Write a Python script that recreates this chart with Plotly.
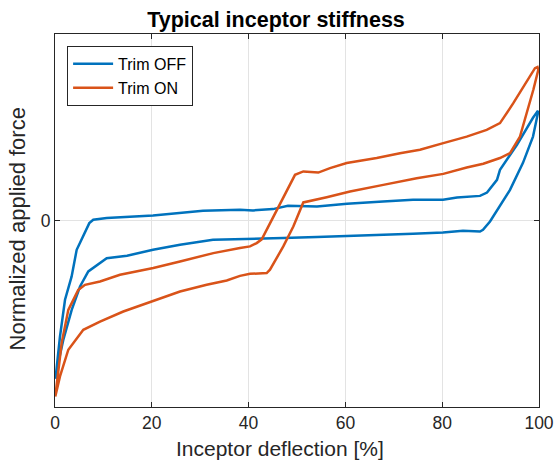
import plotly.graph_objects as go

# Trim OFF loop: loading branch (0 -> 100 %), then unloading branch (100 -> 0 %)
off_load_x = [0.1, 1.03, 2.07, 3.44, 4.48, 5.85, 7.09, 7.91, 10.68, 20.25, 24.38, 30.58,
              38.22, 40.91, 45.04, 48.14, 54.13, 60.33, 67.77, 73.97, 80.17, 83.06, 87.81,
              89.26, 91.32, 91.94, 95.45, 98.76, 99.79]
off_load_y = [-0.849, -0.622, -0.425, -0.300, -0.157, -0.077, -0.014, 0.004, 0.013, 0.027,
              0.036, 0.052, 0.057, 0.054, 0.061, 0.079, 0.075, 0.090, 0.102, 0.111, 0.111,
              0.123, 0.132, 0.150, 0.218, 0.272, 0.406, 0.551, 0.588]
off_unload_x = [99.79, 98.76, 96.69, 94.01, 90.50, 89.88, 88.43, 87.81, 84.30, 80.17, 73.97,
                67.77, 60.33, 54.13, 47.11, 42.36, 36.78, 32.64, 25.83, 20.25, 14.88, 10.68,
                6.88, 5.17, 3.45, 1.71, 0.68, 0.2]
off_unload_y = [0.577, 0.450, 0.309, 0.164, 0.021, -0.005, -0.050, -0.059, -0.055, -0.064,
                -0.071, -0.077, -0.086, -0.089, -0.094, -0.098, -0.100, -0.103, -0.130,
                -0.157, -0.189, -0.202, -0.273, -0.354, -0.479, -0.640, -0.763, -0.849]

# Trim ON loop
on_load_x = [0.06, 1.38, 2.75, 4.81, 6.20, 9.30, 13.43, 20.31, 25.83, 32.71, 38.22, 40.29,
             41.67, 42.71, 49.59, 51.30, 54.40, 56.82, 60.27, 66.47, 71.28, 75.41, 80.23,
             85.06, 89.19, 91.94, 94.69, 96.69, 98.14, 99.17, 99.69]
on_load_y = [-0.944, -0.656, -0.479, -0.372, -0.345, -0.327, -0.291, -0.255, -0.220, -0.175,
             -0.148, -0.139, -0.121, -0.101, 0.245, 0.263, 0.257, 0.281, 0.308, 0.335, 0.361,
             0.379, 0.415, 0.450, 0.486, 0.522, 0.629, 0.710, 0.772, 0.817, 0.823]
on_unload_x = [99.86, 98.83, 97.46, 96.07, 94.01, 91.94, 88.49, 85.06, 80.23, 74.73, 67.83,
               60.95, 56.14, 52.00, 51.30, 49.24, 47.17, 44.42, 43.74, 40.29, 38.22, 35.48,
               31.34, 25.83, 21.01, 14.11, 9.30, 5.85, 2.75, 1.03, 0.06]
on_unload_y = [0.808, 0.701, 0.576, 0.450, 0.361, 0.335, 0.304, 0.284, 0.250, 0.227, 0.191,
               0.155, 0.125, 0.102, 0.097, -0.032, -0.139, -0.264, -0.282, -0.286, -0.297,
               -0.322, -0.345, -0.381, -0.425, -0.488, -0.542, -0.586, -0.693, -0.836, -0.944]

x_ticks = [0, 20, 40, 60, 80, 100]
y_ticks = [0]

BLUE = "#0072BD"
ORANGE = "#D95319"
AXIS = "#262626"
FONT = "Liberation Sans, Arial, Helvetica, sans-serif"

fig = go.Figure()
fig.add_trace(go.Scatter(x=off_load_x + off_unload_x, y=off_load_y + off_unload_y,
                         mode="lines", name="Trim OFF",
                         line=dict(color=BLUE, width=2.5)))
fig.add_trace(go.Scatter(x=on_load_x + on_unload_x, y=on_load_y + on_unload_y,
                         mode="lines", name="Trim ON",
                         line=dict(color=ORANGE, width=2.5)))

axis_common = dict(
    showline=True, linecolor=AXIS, linewidth=1, mirror="ticks",
    ticks="inside", ticklen=5, tickcolor=AXIS, tickwidth=1,
    showgrid=True, gridcolor="#e3e3e3", gridwidth=1,
    zeroline=False, automargin=False,
    tickfont=dict(family=FONT, size=17.5, color=AXIS),
)

fig.update_layout(
    width=554, height=469,
    margin=dict(l=55, r=15, t=34, b=62),
    paper_bgcolor="white", plot_bgcolor="white",
    title=dict(text="<b>Typical inceptor stiffness</b>", x=276 / 554,
               xanchor="center", y=1 - 19 / 469, yanchor="middle",
               font=dict(family=FONT, size=21.5, color="black")),
    xaxis=dict(range=[0, 100], tickvals=x_ticks, **axis_common),
    yaxis=dict(range=[-1, 1], tickvals=y_ticks, **axis_common),
    legend=dict(x=0.025, y=0.968, xanchor="left", yanchor="top",
                bgcolor="white", bordercolor=AXIS, borderwidth=1,
                font=dict(family=FONT, size=16, color="black"),
                tracegroupgap=0, itemwidth=40),
    showlegend=True,
)

# axis labels
fig.add_annotation(text="Inceptor deflection [%]", xref="paper", yref="paper",
                   x=0.465, y=-0.11, xanchor="center", yanchor="middle",
                   showarrow=False, font=dict(family=FONT, size=21, color=AXIS))
fig.add_annotation(text="Normalized applied force", xref="paper", yref="paper",
                   x=-0.077, y=0.478, xanchor="center", yanchor="middle",
                   textangle=-90, showarrow=False,
                   font=dict(family=FONT, size=22, color=AXIS))

fig.write_html("out.html")
